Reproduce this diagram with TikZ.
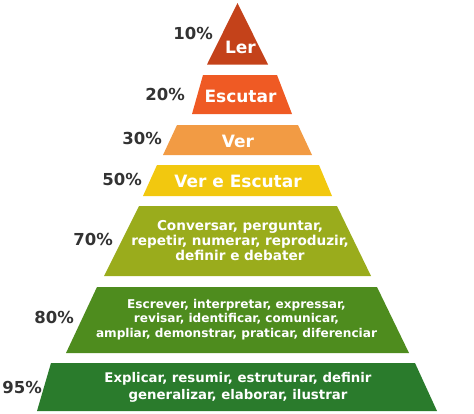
\documentclass[tikz,border=0pt]{standalone}
\usepackage{fontspec}
\setmainfont{DejaVu Sans}
\definecolor{cA}{HTML}{C4421A}
\definecolor{cB}{HTML}{EF5A24}
\definecolor{cC}{HTML}{F29B44}
\definecolor{cD}{HTML}{F2C80F}
\definecolor{cE}{HTML}{9AAC1C}
\definecolor{cF}{HTML}{4E8C1E}
\definecolor{cG}{HTML}{2A7B2C}
\definecolor{pctgray}{HTML}{333333}
\begin{document}
\begin{tikzpicture}[x=1bp,y=-1bp,
  title/.style={text=white, font=\fontsize{17bp}{19bp}\selectfont\bfseries, anchor=base, inner sep=0pt},
  pct/.style={text=pctgray, font=\fontsize{16.5bp}{19bp}\selectfont\bfseries, anchor=base east, inner sep=0pt},
  bodyA/.style={text=white, font=\fontsize{13.6bp}{15.3bp}\selectfont\bfseries, align=center, inner sep=0pt},
  bodyB/.style={text=white, font=\fontsize{12.1bp}{14.7bp}\selectfont\bfseries, align=center, inner sep=0pt},
  bodyC/.style={text=white, font=\fontsize{13.3bp}{16.7bp}\selectfont\bfseries, align=center, inner sep=0pt}]
\useasboundingbox (0,0) rectangle (474,413);
% levels
\fill[cA] (237.5,3) -- (268,64.5) -- (207,64.5) -- cycle;
\fill[cB] (203,75) -- (277,75) -- (292,114) -- (192,114) -- cycle;
\fill[cC] (177,125) -- (298,125) -- (312,155) -- (163,155) -- cycle;
\fill[cD] (157,165) -- (319,165) -- (332,196) -- (143,196) -- cycle;
\fill[cE] (139,206) -- (337,206) -- (371,276) -- (104,276) -- cycle;
\fill[cF] (97,287) -- (377,287) -- (409,353) -- (66,353) -- cycle;
\fill[cG] (51,363) -- (415,363) -- (437,411) -- (37,411) -- cycle;
% titles
\node[title] (t1) at (240.5,53) {Ler};
\node[title] (t2) at (240.5,102) {Escutar};
\node[title] (t3) at (238,147) {Ver};
\node[title] (t4) at (238,187) {Ver e Escutar};
\node[bodyA] (t5) at (240,240.5) {Conversar, perguntar,\\repetir, numerar, reproduzir,\\definir e debater};
\node[bodyB] (t6) at (236.5,319.5) {Escrever, interpretar, expressar,\\revisar, identificar, comunicar,\\ampliar, demonstrar, praticar, diferenciar};
\node[bodyC] (t7) at (238,387.5) {Explicar, resumir, estruturar, definir\\generalizar, elaborar, ilustrar};
% percentages
\node[pct] (p1) at (213,39) {10\%};
\node[pct] (p2) at (185,100) {20\%};
\node[pct] (p3) at (162,144) {30\%};
\node[pct] (p4) at (142,185) {50\%};
\node[pct] (p5) at (113,245) {70\%};
\node[pct] (p6) at (74,323) {80\%};
\node[pct] (p7) at (42,393) {95\%};
\end{tikzpicture}
\end{document}
